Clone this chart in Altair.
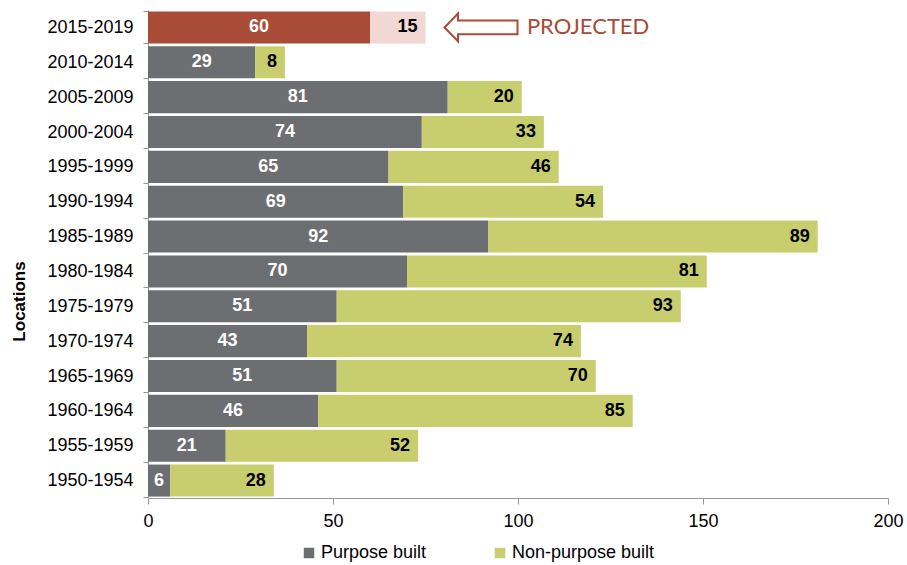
import altair as alt
import pandas as pd

periods = ["2015-2019", "2010-2014", "2005-2009", "2000-2004", "1995-1999",
           "1990-1994", "1985-1989", "1980-1984", "1975-1979", "1970-1974",
           "1965-1969", "1960-1964", "1955-1959", "1950-1954"]
purpose = [60, 29, 81, 74, 65, 69, 92, 70, 51, 43, 51, 46, 21, 6]
nonpurpose = [15, 8, 20, 33, 46, 54, 89, 81, 93, 74, 70, 85, 52, 28]
projected_period = "2015-2019"

series_names = ["Purpose built", "Non-purpose built", "Projected purpose", "Projected non-purpose"]
series_colors = ["#6D6E71", "#C8CD6E", "#A84B37", "#F2D8D3"]

rows = []
for p, a, b in zip(periods, purpose, nonpurpose):
    proj = p == projected_period
    rows.append({"period": p, "series": "Projected purpose" if proj else "Purpose built",
                 "value": a, "start": 0, "end": a, "mid": a / 2, "kind": "purpose"})
    rows.append({"period": p, "series": "Projected non-purpose" if proj else "Non-purpose built",
                 "value": b, "start": a, "end": a + b, "mid": a + b, "kind": "nonpurpose"})
df = pd.DataFrame(rows)

font = "Liberation Sans"

y_enc = alt.Y("period:N", sort=periods, title="Locations",
              scale=alt.Scale(paddingInner=0.08, paddingOuter=0.04),
              axis=alt.Axis(tickBand="extent", tickSize=5, tickColor="#999999",
                            domainColor="#999999", labelPadding=10, labelFontSize=18,
                            labelFont=font, labelColor="#000000", titleFont=font,
                            titleFontSize=17, titleFontWeight="bold", titleColor="#000000",
                            titlePadding=18, titleY=291, grid=False))

bars = alt.Chart(df).mark_bar(cornerRadius=0).encode(
    x=alt.X("start:Q", title=None,
            scale=alt.Scale(domain=[0, 200], nice=False),
            axis=alt.Axis(values=[0, 50, 100, 150, 200], tickSize=6, tickColor="#999999",
                          domainColor="#999999", labelPadding=8, labelFontSize=18,
                          labelFont=font, labelColor="#000000", labelFlush=False,
                          grid=False)),
    x2="end:Q",
    y=y_enc,
    color=alt.Color("series:N",
                    scale=alt.Scale(domain=series_names, range=series_colors),
                    legend=alt.Legend(values=["Purpose built", "Non-purpose built"], title=None,
                                      orient="none", legendX=152, legendY=534,
                                      direction="horizontal", columns=2,
                                      symbolType="square", symbolSize=110,
                                      symbolStrokeWidth=0, labelFontSize=18,
                                      labelFont=font, labelColor="#000000",
                                      labelOffset=3, columnPadding=64)),
)

lab_p = alt.Chart(df[df["kind"] == "purpose"]).mark_text(
    font=font, fontSize=18, fontWeight="bold", color="white", align="center", baseline="middle"
).encode(x="mid:Q", y=alt.Y("period:N", sort=periods), text="value:Q")

lab_n = alt.Chart(df[df["kind"] == "nonpurpose"]).mark_text(
    font=font, fontSize=18, fontWeight="bold", color="black", align="right",
    baseline="middle", dx=-8
).encode(x="mid:Q", y=alt.Y("period:N", sort=periods), text="value:Q")

ann = pd.DataFrame({"period": [projected_period], "arrow_x": [90.0], "text_x": [102.4],
                    "label": ["PROJECTED"]})
arrow_path = "M -1 0 L -0.63 -0.38 L -0.63 -0.19 L 1 -0.19 L 1 0.19 L -0.63 0.19 L -0.63 0.38 Z"
arrow = alt.Chart(ann).mark_point(
    shape=arrow_path, size=5329, filled=False, stroke="#A84B37", strokeWidth=2, opacity=1
).encode(x="arrow_x:Q", y=alt.Y("period:N", sort=periods))

ann_text = alt.Chart(ann).mark_text(
    font="Lato", fontSize=22, color="#A84B37", align="left", baseline="middle"
).encode(x="text_x:Q", y=alt.Y("period:N", sort=periods), text="label:N")

chart = alt.layer(bars, lab_p, lab_n, arrow, ann_text).properties(
    width=740, height=488,
    autosize=alt.AutoSizeParams(type="none"),
    padding={"left": 148, "top": 10, "right": 19, "bottom": 67},
).configure_view(stroke=None)

chart.save("out.html", embed_options={"renderer": "svg", "actions": False})
